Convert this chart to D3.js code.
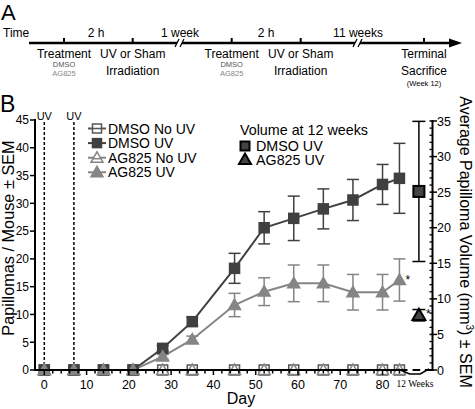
<!DOCTYPE html>
<html><head><meta charset="utf-8">
<script src="https://cdn.jsdelivr.net/npm/d3@7"></script>
<style>body{margin:0;background:#fff}svg{display:block;font-family:"Liberation Sans",Arial,sans-serif}</style>
</head><body><svg id="c" width="475" height="409"></svg>
<script>
// ---------- data ----------
const days = [0, 7, 14, 21, 28, 35, 45, 52, 59, 66, 73, 80, 84];
const dmsoNoUV = [0, 0, 0, 0, 0, 0, 0, 0, 0, 0, 0, 0, 0];
const agNoUV   = [0, 0, 0, 0, 0, 0, 0, 0, 0, 0, 0, 0, 0];
const dmsoUV    = [0, 0, 0, 0, 3.9, 8.7, 18.3, 25.6, 27.3, 29.0, 30.6, 33.4, 34.5];
const dmsoUVsem = [0, 0, 0, 0, 0.5, 0.8, 2.7, 2.9, 4.0, 3.6, 3.7, 3.6, 6.3];
const agUV    = [0, 0, 0, 0, 2.4, 5.5, 11.7, 14.1, 15.6, 15.6, 14.0, 14.0, 16.2];
const agUVsem = [0, 0, 0, 0, 0.4, 0.6, 2.1, 2.5, 3.3, 3.3, 3.2, 3.2, 3.8];
const volumeGroups = ["DMSO UV", "AG825 UV"];
const volumeMean = [25.1, 7.7];
const volumeSem  = [9.85, 0.8];
const uvDays = [0, 7];
const seriesNames = ["DMSO No UV", "DMSO UV", "AG825 No UV", "AG825 UV"];
const leftTicks = [0, 5, 10, 15, 20, 25, 30, 35, 40, 45];
const rightTicks = [0, 5, 10, 15, 20, 25, 30, 35];
const xTicks = [0, 10, 20, 30, 40, 50, 60, 70, 80];
const timelineAbove = ["2 h", "1 week", "2 h", "11 weeks"];
const timelineBelow = ["Treatment", "UV or Sham|Irradiation", "Treatment", "UV or Sham|Irradiation", "Terminal|Sacrifice"];

// ---------- setup ----------
const svg = d3.select("#c");
const DARK = "#404040", LIGHT = "#858585";

// ---------- Panel A: timeline ----------
svg.append("text").attr("x", 1).attr("y", 20).attr("font-size", 22).text("A");
const tl = svg.append("g");
const tY = 43;
tl.append("text").attr("x", 3).attr("y", 37).attr("font-size", 12).text("Time");
tl.append("line").attr("x1", 29).attr("x2", 452).attr("y1", tY).attr("y2", tY)
  .attr("stroke", "#000").attr("stroke-width", 2.5);
tl.append("path").attr("d", `M449,${tY-4.5}L462,${tY}L449,${tY+4.5}Z`).attr("fill", "#000");
const tickX = [64, 132.7, 231.7, 300.7, 424];
const aboveX = [96, 180, 266, 358];
const breakX = [180, 358];
tickX.forEach(x => tl.append("line").attr("x1", x).attr("x2", x).attr("y1", tY - 5).attr("y2", tY)
  .attr("stroke", "#000").attr("stroke-width", 2));
breakX.forEach(x => {
  tl.append("rect").attr("x", x - 3).attr("y", tY - 3).attr("width", 5).attr("height", 6).attr("fill", "#fff");
  tl.append("line").attr("x1", x - 5).attr("y1", tY + 4).attr("x2", x - 1).attr("y2", tY - 4).attr("stroke", "#000").attr("stroke-width", 1.3);
  tl.append("line").attr("x1", x).attr("y1", tY + 4).attr("x2", x + 4).attr("y2", tY - 4).attr("stroke", "#000").attr("stroke-width", 1.3);
});
timelineAbove.forEach((t, i) => tl.append("text").attr("x", aboveX[i]).attr("y", 37)
  .attr("text-anchor", "middle").attr("font-size", 12).text(t));
timelineBelow.forEach((t, i) => {
  const parts = t.split("|");
  tl.append("text").attr("x", tickX[i]).attr("y", 58).attr("text-anchor", "middle").attr("font-size", 12).text(parts[0]);
  if (parts[1]) tl.append("text").attr("x", tickX[i]).attr("y", 75).attr("text-anchor", "middle").attr("font-size", 12).text(parts[1]);
  if (parts[0] === "Treatment") {
    tl.append("text").attr("x", tickX[i]).attr("y", 67).attr("text-anchor", "middle").attr("font-size", 7.5).attr("fill", "#555").text("DMSO");
    tl.append("text").attr("x", tickX[i]).attr("y", 75.5).attr("text-anchor", "middle").attr("font-size", 7.5).attr("fill", "#888").text("AG825");
  }
});
tl.append("text").attr("x", 424).attr("y", 85.5).attr("text-anchor", "middle").attr("font-size", 7.5).text("(Week 12)");

// ---------- Panel B ----------
svg.append("text").attr("x", 0).attr("y", 112).attr("font-size", 23).text("B");

const x = d3.scaleLinear().domain([-2.2, 91.7]).range([35, 432]);
const y = d3.scaleLinear().domain([0, 45]).range([370, 120]);
const yR = d3.scaleLinear().domain([0, 35]).range([370, 121]);
const volumeDay = 88.6;

// UV dashed lines
uvDays.forEach(d => {
  svg.append("line").attr("x1", x(d)).attr("x2", x(d)).attr("y1", y(0)).attr("y2", 122)
    .attr("stroke", "#000").attr("stroke-width", 1.5).attr("stroke-dasharray", "3,2");
  svg.append("text").attr("x", x(d)).attr("y", 120).attr("text-anchor", "middle")
    .attr("font-size", 11).text("UV");
});

// lines
const lineGen = vals => d3.line().x((d, i) => x(days[i])).y(d => y(d))(vals);
const series = [
  {name: "DMSO No UV", vals: dmsoNoUV, sem: null, color: "#555", shape: "square", fill: "#fff"},
  {name: "AG825 No UV", vals: agNoUV, sem: null, color: LIGHT, shape: "tri", fill: "#fff"},
  {name: "DMSO UV", vals: dmsoUV, sem: dmsoUVsem, color: DARK, shape: "square", fill: DARK},
  {name: "AG825 UV", vals: agUV, sem: agUVsem, color: LIGHT, shape: "tri", fill: LIGHT}
];
series.forEach(s => svg.append("path").attr("d", lineGen(s.vals)).attr("fill", "none")
  .attr("stroke", s.color).attr("stroke-width", 2));

// error bars
series.filter(s => s.sem).forEach(s => {
  s.vals.forEach((v, i) => {
    if (!s.sem[i]) return;
    const cx = x(days[i]), y1 = y(v + s.sem[i]), y2 = y(v - s.sem[i]);
    const g = svg.append("g").attr("stroke", s.color).attr("stroke-width", 1.5);
    g.append("line").attr("x1", cx).attr("x2", cx).attr("y1", y1).attr("y2", y2);
    g.append("line").attr("x1", cx - 6).attr("x2", cx + 6).attr("y1", y1).attr("y2", y1);
    g.append("line").attr("x1", cx - 6).attr("x2", cx + 6).attr("y1", y2).attr("y2", y2);
  });
});

function marker(g, shape, cx, cy, size, fill, stroke, sw) {
  if (shape === "square") {
    g.append("rect").attr("x", cx - size / 2).attr("y", cy - size / 2).attr("width", size).attr("height", size)
      .attr("fill", fill).attr("stroke", stroke).attr("stroke-width", sw);
  } else {
    const h = size * 0.9;
    g.append("path").attr("d", `M${cx},${cy - h * 0.6}L${cx + size / 2 + 0.5},${cy + h * 0.45}L${cx - size / 2 - 0.5},${cy + h * 0.45}Z`)
      .attr("fill", fill).attr("stroke", stroke).attr("stroke-width", sw).attr("stroke-linejoin", "miter");
  }
}
// markers (No UV underneath, UV on top)
series.forEach(s => s.vals.forEach((v, i) => {
  marker(svg, s.shape, x(days[i]), y(v), s.shape === "square" ? 10 : 11, s.fill, s.color, 1.5);
}));

// asterisk for AG825 UV last point
svg.append("text").attr("x", x(days[days.length - 1]) + 6).attr("y", y(agUV[agUV.length - 1]) + 4)
  .attr("font-size", 12).text("*");

// volume error bars and markers
volumeGroups.forEach((gname, i) => {
  const cx = x(volumeDay), m = volumeMean[i], s = volumeSem[i];
  const g = svg.append("g").attr("stroke", "#000").attr("stroke-width", 1.5);
  g.append("line").attr("x1", cx).attr("x2", cx).attr("y1", yR(m + s)).attr("y2", yR(m - s));
  g.append("line").attr("x1", cx - 6.5).attr("x2", cx + 6.5).attr("y1", yR(m + s)).attr("y2", yR(m + s));
  g.append("line").attr("x1", cx - 6.5).attr("x2", cx + 6.5).attr("y1", yR(m - s)).attr("y2", yR(m - s));
  marker(svg, i === 0 ? "square" : "tri", cx, yR(m), i === 0 ? 11 : 12, "#444", "#000", 2);
});
svg.append("text").attr("x", x(volumeDay) + 7).attr("y", yR(volumeMean[1]) + 3).attr("font-size", 12).text("*");

// x axis
const axisY = y(0);
svg.append("line").attr("x1", 35).attr("x2", x(85.9)).attr("y1", axisY).attr("y2", axisY).attr("stroke", "#000").attr("stroke-width", 2);
svg.append("line").attr("x1", x(87.1)).attr("x2", x(88.9)).attr("y1", axisY).attr("y2", axisY).attr("stroke", "#000").attr("stroke-width", 2);
svg.append("line").attr("x1", x(90.0)).attr("x2", 432).attr("y1", axisY).attr("y2", axisY).attr("stroke", "#000").attr("stroke-width", 2);
d3.range(0, 86, 2).forEach(d => {
  const major = d % 10 === 0;
  svg.append("line").attr("x1", x(d)).attr("x2", x(d)).attr("y1", axisY).attr("y2", axisY + (major ? 5 : 3.5))
    .attr("stroke", "#000").attr("stroke-width", 1.5);
});
xTicks.forEach(d => svg.append("text").attr("x", x(d)).attr("y", 389).attr("text-anchor", "middle")
  .attr("font-size", 12.5).text(d));
svg.append("text").attr("x", 241).attr("y", 404).attr("text-anchor", "middle").attr("font-size", 16).text("Day");
// 12 weeks bracket
svg.append("path").attr("d", `M${x(83.7)},369L${x(86.4)},374L${x(88.9)},374L${x(91)},369`)
  .attr("fill", "none").attr("stroke", "#000").attr("stroke-width", 1.5);
svg.append("text").attr("x", 415).attr("y", 387).attr("text-anchor", "middle")
  .attr("font-family", "Liberation Serif, serif").attr("font-size", 9.5).text("12 Weeks");

// left axis
svg.append("line").attr("x1", 35).attr("x2", 35).attr("y1", y(45) - 1).attr("y2", axisY + 1).attr("stroke", "#000").attr("stroke-width", 2);
leftTicks.forEach(t => {
  svg.append("line").attr("x1", 30).attr("x2", 35).attr("y1", y(t)).attr("y2", y(t)).attr("stroke", "#000").attr("stroke-width", 1.5);
  svg.append("text").attr("x", 29).attr("y", y(t) + 4.3).attr("text-anchor", "end").attr("font-size", 12).text(t);
});
svg.append("text").attr("transform", `translate(14,238) rotate(-90)`).attr("text-anchor", "middle")
  .attr("font-size", 16.3).text("Papillomas / Mouse ± SEM");

// right axis
svg.append("line").attr("x1", 432.5).attr("x2", 432.5).attr("y1", yR(35) - 1).attr("y2", axisY + 1).attr("stroke", "#000").attr("stroke-width", 2);
d3.range(0, 36, 1).forEach(t => {
  if (t % 5 === 0) return;
  svg.append("line").attr("x1", 429.5).attr("x2", 432.5).attr("y1", yR(t)).attr("y2", yR(t)).attr("stroke", "#000").attr("stroke-width", 1.3);
});
rightTicks.forEach(t => {
  svg.append("line").attr("x1", 429.5).attr("x2", 437).attr("y1", yR(t)).attr("y2", yR(t)).attr("stroke", "#000").attr("stroke-width", 1.5);
  svg.append("text").attr("x", 437).attr("y", yR(t) + 4.5).attr("font-size", 12.5).text(t);
});
const rt = svg.append("text").attr("transform", `translate(460,242) rotate(90)`).attr("text-anchor", "middle")
  .attr("font-size", 16);
rt.append("tspan").text("Average Papilloma Volume (mm");
rt.append("tspan").attr("font-size", 10).attr("dy", -6).text("3");
rt.append("tspan").attr("dy", 6).text(") ± SEM");

// legend 1
const lg = svg.append("g");
const legendStyle = {"DMSO No UV": series[0], "DMSO UV": series[2], "AG825 No UV": series[1], "AG825 UV": series[3]};
seriesNames.forEach((n, i) => {
  const s = legendStyle[n];
  const ly = 128.5 + i * 14.6;
  lg.append("line").attr("x1", 88).attr("x2", 106).attr("y1", ly).attr("y2", ly).attr("stroke", s.color).attr("stroke-width", 2);
  marker(lg, s.shape, 97, ly, s.shape === "square" ? 9 : 11, s.fill, s.color, 1.5);
  if (s.fill === "#fff") lg.append("line").attr("x1", 92).attr("x2", 102).attr("y1", ly + (s.shape === "tri" ? 1 : 0)).attr("y2", ly + (s.shape === "tri" ? 1 : 0)).attr("stroke", s.color).attr("stroke-width", 1.5);
  lg.append("text").attr("x", 108).attr("y", ly + 5).attr("font-size", 14).text(n);
});

// legend 2
svg.append("text").attr("x", 240).attr("y", 135).attr("font-size", 14.3).text("Volume at 12 weeks");
volumeGroups.forEach((n, i) => {
  const ly = 146 + i * 13.5;
  marker(svg, i === 0 ? "square" : "tri", 245, ly, i === 0 ? 9 : 11, "#444", "#000", 2);
  svg.append("text").attr("x", 256).attr("y", ly + 5).attr("font-size", 14.3).text(n);
});
</script></body></html>
